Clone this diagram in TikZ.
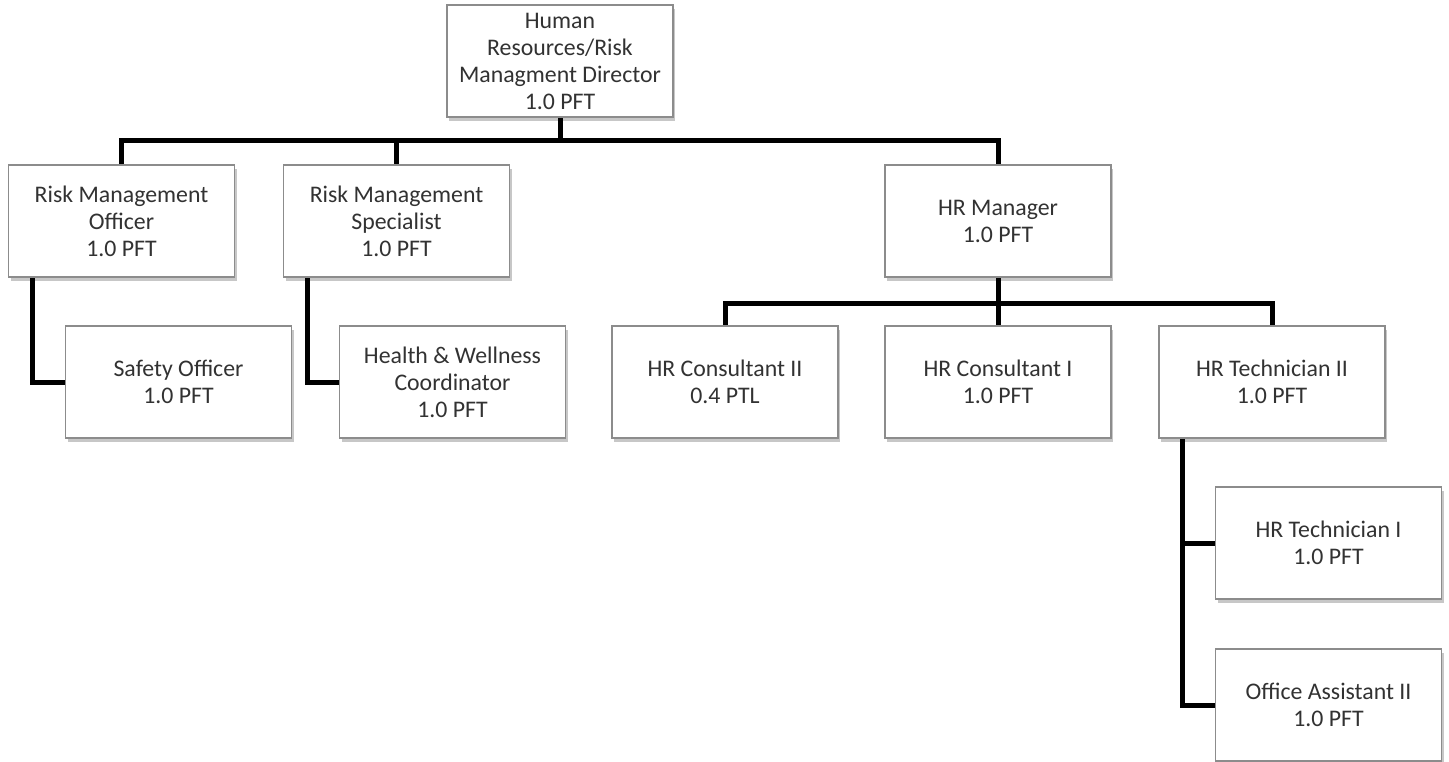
\documentclass[tikz,border=0pt]{standalone}
\usepackage{fontspec}
\setmainfont{Carlito}
\usetikzlibrary{shadows}
\definecolor{txt}{RGB}{50,50,50}
\definecolor{edge}{RGB}{140,140,140}
\tikzset{
  post/.style={draw=edge, line width=1.2pt, fill=white,
    minimum width=226pt, minimum height=112pt, inner sep=2pt,
    align=center, text=txt, font=\fontsize{23.8}{27}\selectfont,
    drop shadow={shadow xshift=2pt, shadow yshift=-4pt, opacity=0.22, fill=black}},
  link/.style={draw=black, line width=5pt, line join=miter}
}
\begin{document}
\begin{tikzpicture}[x=1pt, y=-1pt]
\useasboundingbox (0,0) rectangle (1449,761);
\begin{scope}
\clip (0,0) rectangle (1449,761);
\coordinate (b1) at (0,140);
\coordinate (b2) at (0,303);

% box centres
\path (560,61) coordinate (p-top)
      (121.5,221) coordinate (p-rmo)
      (396.5,221) coordinate (p-rms)
      (998,221) coordinate (p-hrm)
      (178.5,382) coordinate (p-so)
      (452.5,382) coordinate (p-hw)
      (725,382) coordinate (p-hc2)
      (998,382) coordinate (p-hc1)
      (1272,382) coordinate (p-ht2)
      (1328.5,543) coordinate (p-ht1)
      (1328.5,705) coordinate (p-oa);

% connectors (drawn first so boxes sit on top)
\path[link] (p-top) -- (p-top |- b1);
\path[link] (p-rmo) |- (p-hrm |- b1) -- (p-hrm);
\path[link] (p-rms) -- (p-rms |- b1);
\path[link] ([xshift=-89.5pt]p-rmo) |- (p-so);
\path[link] ([xshift=-89.5pt]p-rms) |- (p-hw);
\path[link] (p-hrm) -- (p-hrm |- b2);
\path[link] (p-hc2) |- (p-ht2 |- b2) -- (p-ht2);
\path[link] (p-hc1) -- (p-hc1 |- b2);
\path[link] ([xshift=-90pt]p-ht2) |- (p-ht1);
\path[link] ([xshift=-90pt]p-ht2) |- (p-oa);

% boxes
\node[post] (top) at (p-top) {Human\\Resources/Risk\\Managment Director\\1.0 PFT};
\node[post] (rmo) at (p-rmo) {Risk Management\\Officer\\1.0 PFT};
\node[post] (rms) at (p-rms) {Risk Management\\Specialist\\1.0 PFT};
\node[post] (hrm) at (p-hrm) {HR Manager\\1.0 PFT};
\node[post] (so) at (p-so) {Safety Officer\\1.0 PFT};
\node[post] (hw) at (p-hw) {Health \& Wellness\\Coordinator\\1.0 PFT};
\node[post] (hc2) at (p-hc2) {HR Consultant II\\0.4 PTL};
\node[post] (hc1) at (p-hc1) {HR Consultant I\\1.0 PFT};
\node[post] (ht2) at (p-ht2) {HR Technician II\\1.0 PFT};
\node[post] (ht1) at (p-ht1) {HR Technician I\\1.0 PFT};
\node[post] (oa) at (p-oa) {Office Assistant II\\1.0 PFT};
\end{scope}
\end{tikzpicture}
\end{document}
